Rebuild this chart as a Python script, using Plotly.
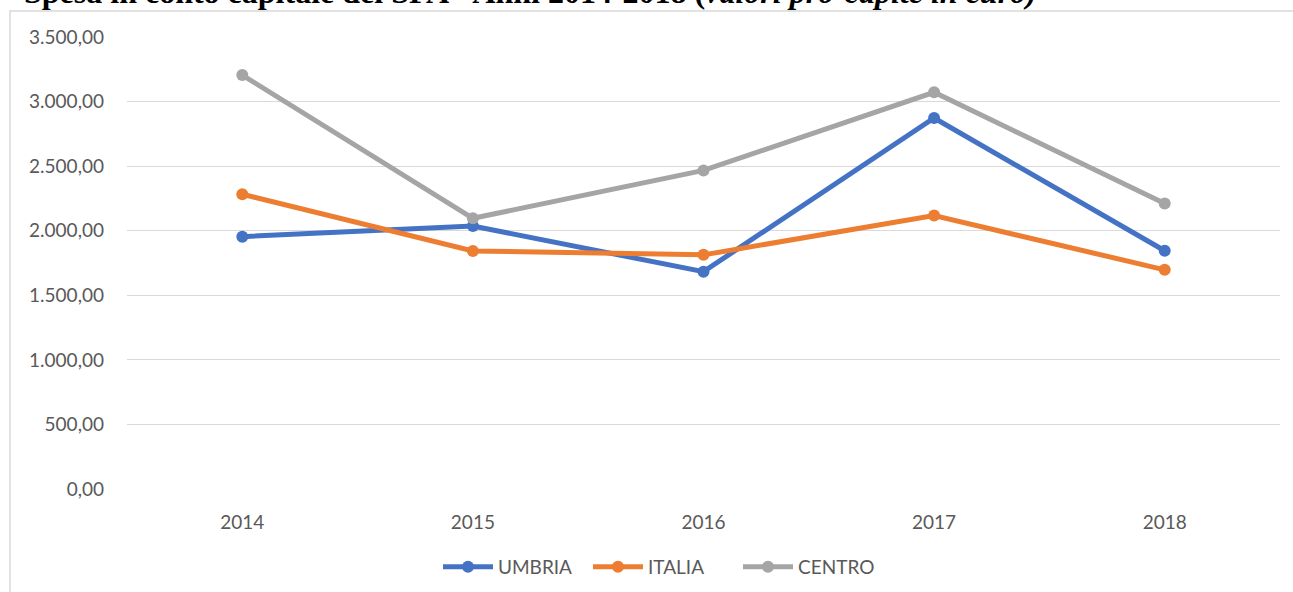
import plotly.graph_objects as go

years = ["2014", "2015", "2016", "2017", "2018"]
umbria = [1954, 2036, 1683, 2873, 1845]
italia = [2282, 1843, 1813, 2117, 1697]
centro = [3205, 2096, 2467, 3072, 2210]
y_ticks = [0, 500, 1000, 1500, 2000, 2500, 3000, 3500]
title_text = "Spesa in conto capitale del SPA - Anni 2014-2018 (<i>valori pro-capite in euro)</i>"

W, H = 1293, 592
L, R, T, B = 127, 13, 37, 103
pw = W - L - R
ph = H - T - B

fig = go.Figure()
for name, vals, col in [("UMBRIA", umbria, "#4472C4"),
                        ("ITALIA", italia, "#ED7D31"),
                        ("CENTRO", centro, "#A5A5A5")]:
    fig.add_trace(go.Scatter(
        x=years, y=vals, name=name, mode="lines+markers",
        line=dict(color=col, width=5),
        marker=dict(color=col, size=12),
    ))

font_fam = "Lato, 'Open Sans', sans-serif"
fig.update_layout(
    width=W, height=H,
    margin=dict(l=L, r=R, t=T, b=B, autoexpand=False),
    paper_bgcolor="white", plot_bgcolor="white",
    separators=",.",
    font=dict(family=font_fam, size=19, color="#595959"),
    showlegend=True,
    legend=dict(orientation="h", x=(438 - L) / pw, xanchor="left",
                y=(H - B - 567) / ph, yanchor="middle",
                font=dict(size=19, color="#595959"),
                itemwidth=50, tracegroupgap=0, entrywidth=85,
                bgcolor="rgba(0,0,0,0)"),
    xaxis=dict(type="category", range=[-0.5, 4.5], showgrid=False,
               showline=False, zeroline=False, ticks="",
               ticklabelstandoff=20, tickfont=dict(size=19, color="#595959")),
    yaxis=dict(range=[0, 3500], tickvals=y_ticks, tickformat=",.2f",
               showgrid=True, gridcolor="#D9D9D9", gridwidth=1,
               zeroline=False, showline=False, ticks="",
               ticklabelstandoff=22, tickfont=dict(size=19, color="#595959")),
)

# chart border (partially off-canvas)
fig.add_shape(type="rect", xref="paper", yref="paper",
              x0=(10 - L) / pw, x1=(1400 - L) / pw,
              y0=(H - B - 700) / ph, y1=(H - B - 11) / ph,
              line=dict(color="#D9D9D9", width=1.5), fillcolor="rgba(0,0,0,0)",
              layer="below")

# title partially cut at top
fig.add_annotation(text="<b>" + title_text + "</b>", xref="paper", yref="paper",
                   x=(22 - L) / pw, xanchor="left",
                   y=(H - B + 8) / ph, yanchor="middle",
                   showarrow=False,
                   font=dict(family="'Liberation Serif', 'DejaVu Serif', serif",
                             size=32, color="black"))

fig.write_html("out.html", config={"displayModeBar": False},
               post_script="document.body.style.margin='0';document.body.style.overflow='hidden';")
